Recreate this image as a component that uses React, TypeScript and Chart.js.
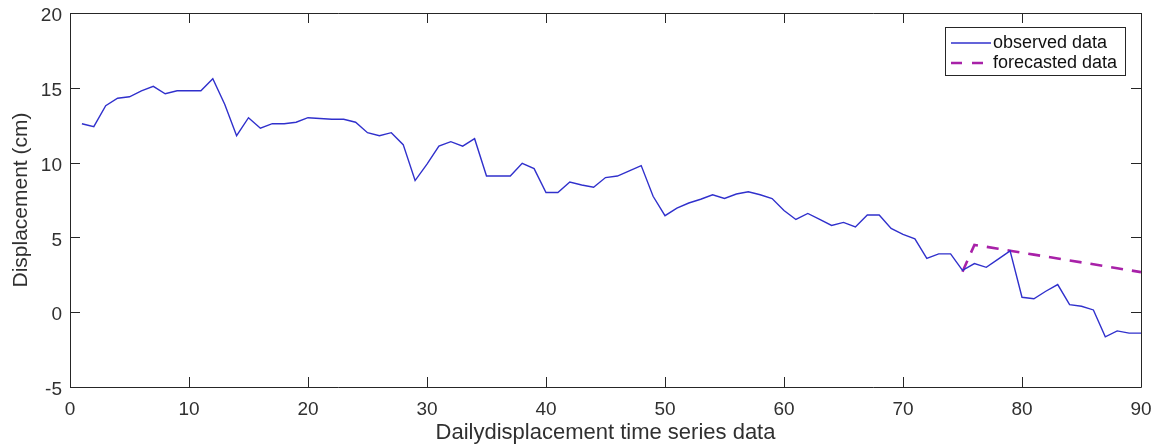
import React, { useEffect, useRef } from "react";
import { Chart, registerables } from "chart.js";

Chart.register(...registerables);

// Observed daily displacement (cm), days 1..90
const observed: number[] = [
  12.6, 12.4, 13.8, 14.3, 14.4, 14.8, 15.1, 14.6, 14.8, 14.8,
  14.8, 15.6, 13.9, 11.8, 13.0, 12.3, 12.6, 12.6, 12.7, 13.0,
  12.95, 12.9, 12.9, 12.7, 12.0, 11.8, 12.0, 11.2, 8.8, 9.9,
  11.1, 11.4, 11.1, 11.6, 9.1, 9.1, 9.1, 9.95, 9.6, 8.0,
  8.0, 8.7, 8.5, 8.35, 9.0, 9.1, 9.45, 9.8, 7.75, 6.45,
  6.95, 7.3, 7.55, 7.85, 7.6, 7.9, 8.05, 7.85, 7.6, 6.8,
  6.2, 6.6, 6.2, 5.8, 6.0, 5.7, 6.5, 6.5, 5.6, 5.2,
  4.9, 3.6, 3.9, 3.9, 2.8, 3.25, 3.0, 3.55, 4.1, 1.0,
  0.9, 1.4, 1.85, 0.5, 0.4, 0.15, -1.65, -1.25, -1.4, -1.4,
];
const observedStartDay = 1;

// Forecasted displacement (cm), days 75..90
const forecast: number[] = [
  2.7, 4.5, 4.37, 4.24, 4.11, 3.98, 3.85, 3.72, 3.59, 3.46,
  3.33, 3.2, 3.07, 2.94, 2.81, 2.68,
];
const forecastStartDay = 75;

const seriesNames: string[] = ["observed data", "forecasted data"];
const xTitle = "Dailydisplacement time series data";
const yTitle = "Displacement (cm)";

const FONT = 'Arial, "Liberation Sans", Helvetica, sans-serif';
const AXIS_COLOR = "#262626";
const TEXT_COLOR = "#303030";
const OBS_COLOR = "#3030cc";
const FC_COLOR = "#a821a8";
const FC_DASH = [12, 9];

const framePlugin = {
  id: "matlabFrame",
  afterDatasetsDraw(chart: any) {
    const { ctx, chartArea } = chart;
    const { left, right, top, bottom } = chartArea;
    const tl = 10;
    ctx.save();
    ctx.strokeStyle = AXIS_COLOR;
    ctx.lineWidth = 1;
    ctx.beginPath();
    ctx.rect(Math.round(left) + 0.5, Math.round(top) + 0.5, Math.round(right - left), Math.round(bottom - top));
    ctx.stroke();
    const xs = chart.scales.x;
    const ys = chart.scales.y;
    ctx.beginPath();
    xs.ticks.forEach((t: any) => {
      const px = Math.round(xs.getPixelForValue(t.value)) + 0.5;
      ctx.moveTo(px, bottom);
      ctx.lineTo(px, bottom - tl);
      ctx.moveTo(px, top);
      ctx.lineTo(px, top + tl);
    });
    ys.ticks.forEach((t: any) => {
      const py = Math.round(ys.getPixelForValue(t.value)) + 0.5;
      ctx.moveTo(left, py);
      ctx.lineTo(left + tl, py);
      ctx.moveTo(right, py);
      ctx.lineTo(right - tl, py);
    });
    ctx.stroke();

    // legend box
    const bx = 945.5, by = 27.5, bw = 180, bh = 48;
    ctx.fillStyle = "#ffffff";
    ctx.fillRect(bx, by, bw, bh);
    ctx.strokeStyle = AXIS_COLOR;
    ctx.lineWidth = 1;
    ctx.strokeRect(bx, by, bw, bh);
    const rows = [
      { y: 43, color: OBS_COLOR, dash: [] as number[], width: 1.4 },
      { y: 63, color: FC_COLOR, dash: [11, 10], width: 2.6 },
    ];
    ctx.font = `18px ${FONT}`;
    ctx.textBaseline = "middle";
    ctx.textAlign = "left";
    rows.forEach((r, i) => {
      ctx.beginPath();
      ctx.setLineDash(r.dash);
      ctx.strokeStyle = r.color;
      ctx.lineWidth = r.width;
      ctx.moveTo(951, r.y);
      ctx.lineTo(991, r.y);
      ctx.stroke();
      ctx.setLineDash([]);
      ctx.fillStyle = "#111111";
      ctx.fillText(seriesNames[i], 993, r.y);
    });
    ctx.restore();
  },
};

export default function App() {
  const canvasRef = useRef<HTMLCanvasElement | null>(null);

  useEffect(() => {
    if (!canvasRef.current) return;
    const obsData = observed.map((v, i) => ({ x: observedStartDay + i, y: v }));
    const fcData = forecast.map((v, i) => ({ x: forecastStartDay + i, y: v }));
    const chart = new Chart(canvasRef.current, {
      type: "line",
      data: {
        datasets: [
          {
            label: seriesNames[0],
            data: obsData,
            borderColor: OBS_COLOR,
            borderWidth: 1.4,
            pointRadius: 0,
            tension: 0,
            fill: false,
          },
          {
            label: seriesNames[1],
            data: fcData,
            borderColor: FC_COLOR,
            borderWidth: 2.6,
            borderDash: FC_DASH,
            pointRadius: 0,
            tension: 0,
            fill: false,
          },
        ],
      },
      options: {
        animation: false,
        responsive: false,
        layout: { padding: { top: 13, right: 15, bottom: 0, left: 0 } },
        plugins: {
          legend: { display: false },
          tooltip: { enabled: false },
        },
        scales: {
          x: {
            type: "linear",
            min: 0,
            max: 90,
            grid: { display: false, drawTicks: false },
            border: { display: false },
            ticks: {
              stepSize: 10,
              padding: 11,
              color: TEXT_COLOR,
              font: { family: FONT, size: 19 },
              maxRotation: 0,
            },
            title: {
              display: true,
              text: xTitle,
              color: TEXT_COLOR,
              font: { family: FONT, size: 22 },
              padding: { top: 0, bottom: 2 },
            },
            afterFit: (s: any) => {
              s.height = 61;
              s.paddingLeft = 0;
              s.paddingRight = 0;
            },
          },
          y: {
            type: "linear",
            min: -5,
            max: 20,
            grid: { display: false, drawTicks: false },
            border: { display: false },
            ticks: {
              stepSize: 5,
              padding: 8,
              labelOffset: 3,
              color: TEXT_COLOR,
              font: { family: FONT, size: 19 },
            },
            title: {
              display: true,
              text: yTitle,
              color: TEXT_COLOR,
              font: { family: FONT, size: 21 },
              padding: { top: 9, bottom: 0 },
            },
            afterFit: (s: any) => {
              s.width = 70;
              s.paddingTop = 0;
              s.paddingBottom = 0;
            },
          },
        },
      },
      plugins: [framePlugin],
    });
    return () => chart.destroy();
  }, []);

  return (
    <div style={{ position: "absolute", left: 0, top: 0, width: 1156, height: 448, background: "#ffffff" }}>
      <canvas ref={canvasRef} width={1156} height={448} />
    </div>
  );
}
